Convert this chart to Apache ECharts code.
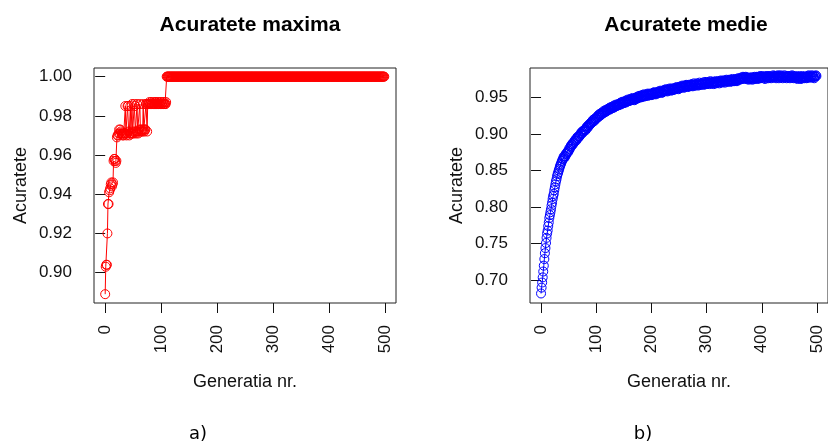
<!DOCTYPE html>
<html>
<head>
<meta charset="utf-8">
<script src="https://cdn.jsdelivr.net/npm/echarts@6.0.0/dist/echarts.min.js"></script>
<style>
html, body { margin: 0; padding: 0; background: #fff; }
#main { width: 828px; height: 441px; }
</style>
</head>
<body>
<div id="main"></div>
<script>
// a) Acuratete maxima - generatiile 0..109, apoi platou la 1.00
var maxEarly = [
	0.889, 0.903, 0.904, 0.904, 0.920, 0.935, 0.935, 0.941, 0.942, 0.943,
	0.945, 0.946, 0.944, 0.945, 0.946, 0.957, 0.958, 0.958, 0.957, 0.956,
	0.957, 0.969, 0.970, 0.970, 0.971, 0.973, 0.971, 0.973, 0.972, 0.971,
	0.971, 0.970, 0.971, 0.970, 0.971, 0.971, 0.985, 0.971, 0.970, 0.971,
	0.985, 0.985, 0.972, 0.970, 0.971, 0.985, 0.971, 0.971, 0.986, 0.971,
	0.972, 0.971, 0.986, 0.985, 0.972, 0.971, 0.972, 0.986, 0.972, 0.971,
	0.972, 0.973, 0.986, 0.972, 0.973, 0.972, 0.973, 0.972, 0.986, 0.973,
	0.972, 0.973, 0.973, 0.986, 0.986, 0.972, 0.986, 0.986, 0.986, 0.987,
	0.986, 0.986, 0.987, 0.986, 0.986, 0.987, 0.986, 0.986, 0.986, 0.987,
	0.986, 0.987, 0.986, 0.986, 0.987, 0.986, 0.986, 0.987, 0.986, 0.986,
	0.987, 0.986, 0.986, 0.987, 0.986, 0.986, 0.987, 0.986, 0.986, 0.987
];
var maxPlateau = 1.00;
var maxLastGen = 499;

// b) Acuratete medie - cate o valoare pe generatie, 0..499 (10 pe rand)
var medie = [
	0.682, 0.690, 0.697, 0.704, 0.712, 0.720, 0.729, 0.737, 0.744, 0.751,
	0.758, 0.764, 0.768, 0.774, 0.779, 0.785, 0.789, 0.793, 0.797, 0.802,
	0.806, 0.811, 0.815, 0.818, 0.823, 0.827, 0.831, 0.835, 0.838, 0.842,
	0.845, 0.847, 0.850, 0.852, 0.855, 0.857, 0.859, 0.861, 0.863, 0.865,
	0.866, 0.869, 0.867, 0.870, 0.869, 0.873, 0.872, 0.874, 0.876, 0.875,
	0.877, 0.880, 0.879, 0.882, 0.884, 0.883, 0.886, 0.885, 0.888, 0.887,
	0.889, 0.891, 0.890, 0.893, 0.891, 0.894, 0.896, 0.894, 0.897, 0.896,
	0.897, 0.899, 0.901, 0.900, 0.903, 0.901, 0.904, 0.903, 0.905, 0.906,
	0.906, 0.905, 0.908, 0.910, 0.908, 0.911, 0.910, 0.913, 0.912, 0.914,
	0.914, 0.916, 0.915, 0.917, 0.919, 0.917, 0.920, 0.918, 0.921, 0.920,
	0.921, 0.923, 0.922, 0.925, 0.923, 0.926, 0.927, 0.925, 0.928, 0.926,
	0.927, 0.929, 0.928, 0.931, 0.929, 0.930, 0.932, 0.930, 0.933, 0.931,
	0.932, 0.934, 0.933, 0.935, 0.933, 0.936, 0.934, 0.935, 0.937, 0.935,
	0.936, 0.938, 0.936, 0.939, 0.937, 0.938, 0.940, 0.938, 0.940, 0.939,
	0.939, 0.941, 0.940, 0.942, 0.940, 0.943, 0.941, 0.942, 0.944, 0.942,
	0.942, 0.944, 0.943, 0.945, 0.943, 0.946, 0.944, 0.945, 0.947, 0.945,
	0.945, 0.947, 0.946, 0.948, 0.946, 0.947, 0.949, 0.947, 0.948, 0.946,
	0.947, 0.949, 0.948, 0.950, 0.948, 0.951, 0.949, 0.950, 0.952, 0.950,
	0.950, 0.952, 0.950, 0.953, 0.951, 0.952, 0.954, 0.951, 0.953, 0.952,
	0.952, 0.954, 0.953, 0.955, 0.952, 0.954, 0.953, 0.955, 0.953, 0.954,
	0.953, 0.955, 0.954, 0.956, 0.954, 0.957, 0.955, 0.956, 0.954, 0.956,
	0.955, 0.957, 0.956, 0.958, 0.956, 0.957, 0.959, 0.957, 0.958, 0.956,
	0.957, 0.959, 0.958, 0.960, 0.958, 0.959, 0.961, 0.959, 0.960, 0.958,
	0.959, 0.961, 0.960, 0.962, 0.960, 0.961, 0.959, 0.962, 0.960, 0.961,
	0.960, 0.962, 0.961, 0.963, 0.961, 0.962, 0.964, 0.962, 0.963, 0.961,
	0.962, 0.964, 0.963, 0.965, 0.963, 0.964, 0.966, 0.964, 0.965, 0.963,
	0.964, 0.966, 0.965, 0.967, 0.965, 0.966, 0.964, 0.967, 0.965, 0.966,
	0.965, 0.967, 0.966, 0.968, 0.966, 0.965, 0.967, 0.969, 0.966, 0.967,
	0.966, 0.968, 0.967, 0.969, 0.967, 0.966, 0.968, 0.970, 0.967, 0.968,
	0.967, 0.969, 0.968, 0.970, 0.968, 0.967, 0.969, 0.971, 0.968, 0.969,
	0.968, 0.970, 0.969, 0.971, 0.969, 0.968, 0.970, 0.972, 0.969, 0.970,
	0.969, 0.971, 0.970, 0.968, 0.971, 0.970, 0.972, 0.969, 0.971, 0.970,
	0.970, 0.972, 0.971, 0.969, 0.972, 0.971, 0.973, 0.970, 0.972, 0.971,
	0.971, 0.973, 0.972, 0.970, 0.973, 0.972, 0.974, 0.971, 0.973, 0.972,
	0.972, 0.974, 0.973, 0.971, 0.974, 0.972, 0.973, 0.975, 0.972, 0.973,
	0.972, 0.974, 0.973, 0.975, 0.973, 0.972, 0.974, 0.976, 0.974, 0.975,
	0.974, 0.976, 0.975, 0.977, 0.975, 0.976, 0.978, 0.976, 0.977, 0.975,
	0.976, 0.978, 0.977, 0.975, 0.977, 0.976, 0.974, 0.976, 0.975, 0.977,
	0.975, 0.977, 0.976, 0.974, 0.977, 0.975, 0.976, 0.978, 0.975, 0.977,
	0.976, 0.978, 0.977, 0.975, 0.978, 0.976, 0.977, 0.979, 0.976, 0.978,
	0.977, 0.979, 0.978, 0.976, 0.978, 0.977, 0.975, 0.978, 0.979, 0.977,
	0.977, 0.979, 0.976, 0.978, 0.977, 0.979, 0.978, 0.976, 0.978, 0.977,
	0.978, 0.980, 0.979, 0.977, 0.979, 0.978, 0.976, 0.979, 0.978, 0.980,
	0.978, 0.976, 0.979, 0.978, 0.980, 0.977, 0.979, 0.978, 0.976, 0.978,
	0.978, 0.980, 0.977, 0.979, 0.978, 0.976, 0.978, 0.979, 0.977, 0.979,
	0.978, 0.976, 0.979, 0.977, 0.978, 0.980, 0.977, 0.979, 0.976, 0.978,
	0.977, 0.979, 0.976, 0.978, 0.977, 0.975, 0.978, 0.977, 0.979, 0.976,
	0.977, 0.975, 0.978, 0.976, 0.979, 0.977, 0.978, 0.976, 0.978, 0.977,
	0.978, 0.976, 0.979, 0.977, 0.978, 0.980, 0.977, 0.979, 0.977, 0.978,
	0.978, 0.980, 0.977, 0.979, 0.978, 0.976, 0.979, 0.978, 0.980, 0.979
];

var xTicks = [0, 100, 200, 300, 400, 500];
var yTicksMax = [0.90, 0.92, 0.94, 0.96, 0.98, 1.00];
var yTicksMedie = [0.70, 0.75, 0.80, 0.85, 0.90, 0.95];

var maxData = [];
for (var i = 0; i < maxEarly.length; i++) {
	maxData.push([i, maxEarly[i]]);
}
for (var g = maxEarly.length; g <= maxLastGen; g++) {
	maxData.push([g, maxPlateau]);
}

var medieData = [];
for (var i = 0; i < medie.length; i++) {
	medieData.push([i, medie[i]]);
}

var FONT = "'Liberation Sans', Arial, sans-serif";
var INK = '#111';

function xAxisFor(idx) {
	return {
		type : 'value',
		gridIndex : idx,
		min : -20,
		max : 520,
		name : 'Generatia nr.',
		nameLocation : 'middle',
		nameGap : 70,
		nameTextStyle : { fontFamily : FONT, fontSize : 18, color : INK },
		splitLine : { show : false },
		axisLine : { show : false },
		axisTick : {
			show : true,
			length : 10,
			customValues : xTicks,
			lineStyle : { color : INK, width : 1 }
		},
		axisLabel : {
			customValues : xTicks,
			rotate : 90,
			margin : 22,
			fontFamily : FONT,
			fontSize : 17,
			color : INK
		}
	};
}

function yAxisFor(idx, min, max, ticks) {
	return {
		type : 'value',
		gridIndex : idx,
		min : min,
		max : max,
		name : 'Acuratete',
		nameLocation : 'middle',
		nameGap : 64,
		nameTextStyle : { fontFamily : FONT, fontSize : 18, color : INK },
		splitLine : { show : false },
		axisLine : { show : false },
		axisTick : {
			show : true,
			length : 10,
			customValues : ticks,
			lineStyle : { color : INK, width : 1 }
		},
		axisLabel : {
			customValues : ticks,
			margin : 22,
			fontFamily : FONT,
			fontSize : 17,
			color : INK,
			formatter : function(v) {
				return v.toFixed(2);
			}
		}
	};
}

function seriesFor(idx, data, color) {
	return {
		type : 'line',
		xAxisIndex : idx,
		yAxisIndex : idx,
		data : data,
		symbol : 'circle',
		symbolSize : 9,
		showSymbol : true,
		showAllSymbol : true,
		sampling : null,
		silent : true,
		lineStyle : { color : color, width : 1 },
		itemStyle : {
			color : 'rgba(0,0,0,0)',
			borderColor : color,
			borderWidth : 1
		},
		emphasis : { disabled : true }
	};
}

var myChart = echarts.init(document.getElementById('main'));
var option = {
	animation : false,
	backgroundColor : '#fff',
	title : [ {
		text : 'Acuratete maxima',
		left : 245,
		top : 10,
		textAlign : 'center',
		textStyle : { fontFamily : FONT, fontSize : 21, fontWeight : 'bold', color : '#000' }
	}, {
		text : 'Acuratete medie',
		left : 681,
		top : 10,
		textAlign : 'center',
		textStyle : { fontFamily : FONT, fontSize : 21, fontWeight : 'bold', color : '#000' }
	}, {
		text : 'a)',
		left : 193,
		top : 420,
		textAlign : 'center',
		textStyle : { fontFamily : "'DejaVu Sans', sans-serif", fontSize : 18, fontWeight : 'normal', color : '#000' }
	}, {
		text : 'b)',
		left : 638,
		top : 420,
		textAlign : 'center',
		textStyle : { fontFamily : "'DejaVu Sans', sans-serif", fontSize : 18, fontWeight : 'normal', color : '#000' }
	} ],
	grid : [ {
		left : 94,
		top : 68,
		width : 302,
		height : 235,
		show : true,
		borderColor : '#222',
		borderWidth : 1
	}, {
		left : 530,
		top : 68,
		width : 301,
		height : 235,
		show : true,
		borderColor : '#222',
		borderWidth : 1
	} ],
	xAxis : [ xAxisFor(0), xAxisFor(1) ],
	yAxis : [
		yAxisFor(0, 0.8845, 1.0044, yTicksMax),
		yAxisFor(1, 0.669, 0.990, yTicksMedie)
	],
	series : [
		seriesFor(0, maxData, '#ff0000'),
		seriesFor(1, medieData, '#0000ff')
	]
};
myChart.setOption(option);
</script>
</body>
</html>
